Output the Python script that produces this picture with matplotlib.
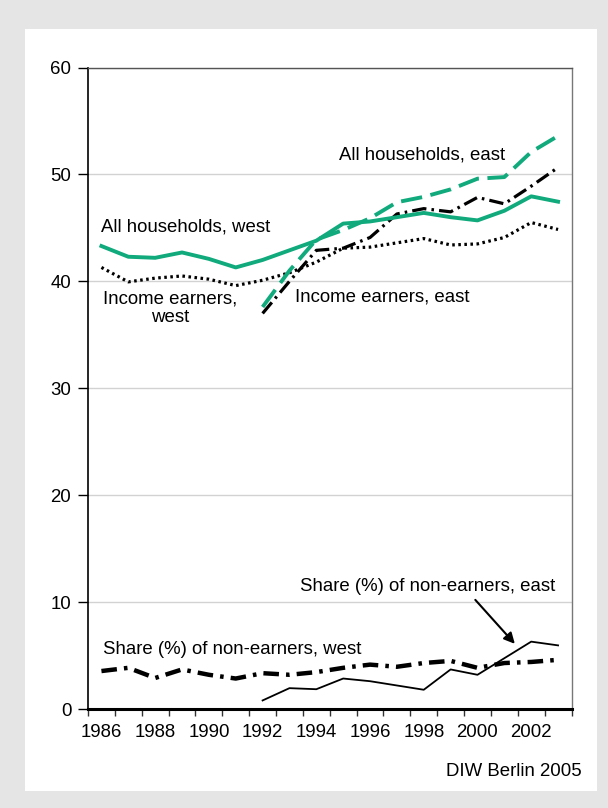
import matplotlib
import matplotlib.pyplot as plt
import numpy as np

matplotlib.use('Agg')
plt.rc('font', family=['Liberation Sans', 'DejaVu Sans'])

years = list(range(1986, 2004))
years_east = list(range(1992, 2004))

all_west = [43.3, 42.3, 42.2, 42.7, 42.1, 41.3, 42.0, 42.9, 43.8, 45.4, 45.6, 46.0,
            46.4, 46.0, 45.7, 46.6, 47.95, 47.45]
earners_west = [41.3, 39.95, 40.3, 40.5, 40.2, 39.6, 40.1, 40.8, 41.8, 43.1, 43.2, 43.6,
                44.0, 43.4, 43.5, 44.1, 45.5, 44.85]
all_east = [37.6, 41.0, 43.9, 44.8, 45.9, 47.4, 47.9, 48.6, 49.6, 49.75, 52.1, 53.6]
earners_east = [37.0, 40.0, 42.9, 43.1, 44.1, 46.3, 46.8, 46.5, 47.85, 47.25, 48.9, 50.65]
share_west = [3.55, 3.85, 2.9, 3.7, 3.2, 2.85, 3.35, 3.2, 3.45, 3.85, 4.15, 3.95,
              4.3, 4.5, 3.85, 4.3, 4.4, 4.6]
share_east = [0.8, 1.95, 1.85, 2.85, 2.6, 2.2, 1.8, 3.7, 3.2, 4.75, 6.3, 5.95]

green = '#10aa7c'

fig = plt.figure(figsize=(6.08, 8.08), dpi=100)
fig.patch.set_facecolor('#e5e5e5')
panel = fig.add_axes([25 / 608, 1 - 791 / 808, 572 / 608, 762 / 808])
panel.set_facecolor('white')
panel.set_xticks([])
panel.set_yticks([])
for s in panel.spines.values():
    s.set_visible(False)

ax = fig.add_axes([88 / 608, 1 - 709 / 808, 483.5 / 608, 641.5 / 808])
ax.set_facecolor('none')

xi = np.arange(len(years))
xe = np.array([years.index(y) for y in years_east])

ax.plot(xi, share_west, color='black', lw=3.2, linestyle=(0, (3.5, 1.6, 0.8, 1.6)))
ax.plot(xe, share_east, color='black', lw=1.3)
ax.plot(xi, earners_west, color='black', lw=2.3, linestyle=(0, (0.8, 1.1)))
ax.plot(xe, earners_east, color='black', lw=2.3, linestyle=(0, (4.5, 1.6, 0.8, 1.6)))
ax.plot(xi, all_west, color=green, lw=2.8)
ax.plot(xe, all_east, color=green, lw=2.8, linestyle=(0, (5.5, 2.2)))

fs = 13.4

ax.set_xlim(-0.5, len(years) - 0.5)
ax.set_ylim(0, 60)
ax.set_yticks(np.arange(0, 61, 10))
ax.yaxis.grid(True, color='#d2d2d2', lw=1)
ax.set_axisbelow(True)
ax.tick_params(axis='y', length=7, width=1, labelsize=fs, pad=5, colors='black')

ax.set_xticks(np.arange(-0.5, len(years), 1))
ax.set_xticklabels([])
ax.tick_params(axis='x', which='major', length=4.8, width=1, color='#333333')
ax.set_xticks(xi[::2], minor=True)
ax.set_xticklabels([str(y) for y in years[::2]], minor=True)
ax.tick_params(axis='x', which='minor', length=0, labelsize=fs, pad=10.5)

ax.spines['left'].set_linewidth(1.2)
ax.spines['bottom'].set_linewidth(2.2)
ax.spines['top'].set_color('#555555')
ax.spines['right'].set_color('#777777')
ax.spines['top'].set_linewidth(1)
ax.spines['right'].set_linewidth(1)

ax.text(8.86, 51.8, 'All households, east', fontsize=fs, ha='left', va='center')
ax.text(-0.03, 45.07, 'All households, west', fontsize=fs, ha='left', va='center')
ax.text(2.56, 37.5, 'Income earners,\nwest', fontsize=fs, ha='center', va='center',
        multialignment='center', linespacing=1.12)
ax.text(7.22, 38.5, 'Income earners, east', fontsize=fs, ha='left', va='center')
ax.text(0.04, 5.6, 'Share (%) of non-earners, west', fontsize=fs, ha='left', va='center')
ax.text(7.41, 11.5, 'Share (%) of non-earners, east', fontsize=fs, ha='left', va='center')
ax.annotate('', xy=(15.46, 5.9), xytext=(13.85, 10.4),
            arrowprops=dict(arrowstyle='-|>', color='black', lw=1.5, mutation_scale=16))

fig.text(582 / 608, 1 - 772 / 808, 'DIW Berlin 2005', fontsize=fs, ha='right', va='center')

plt.savefig('out.png', dpi=100, facecolor=fig.get_facecolor())
